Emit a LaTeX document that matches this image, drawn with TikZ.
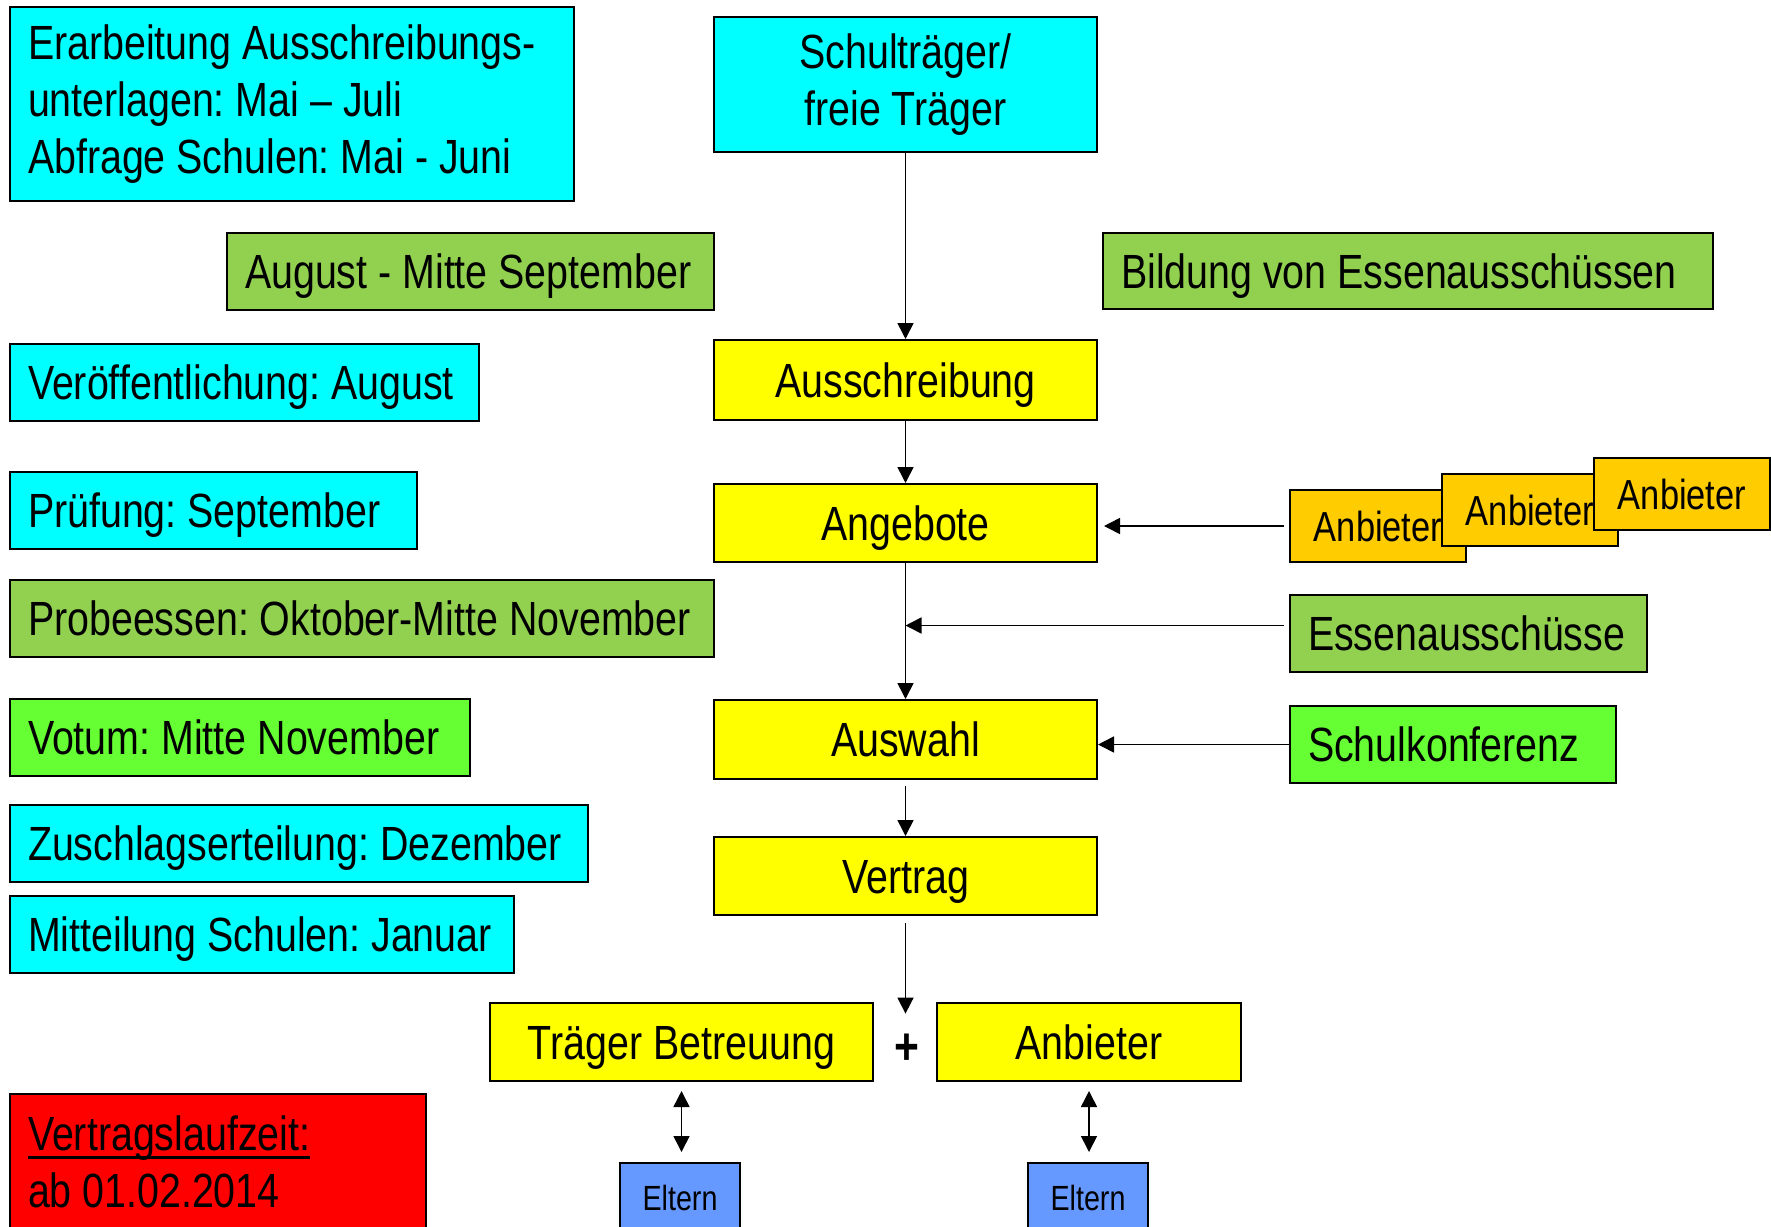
\documentclass[tikz,border=0pt]{standalone}
\usepackage{fontspec}
\setmainfont[FakeStretch=0.82]{Liberation Sans}
\usepackage{xcolor}
\usetikzlibrary{arrows.meta}

\definecolor{tcyan}{HTML}{00FFFF}
\definecolor{tyellow}{HTML}{FFFF00}
\definecolor{tolive}{HTML}{92D050}
\definecolor{tlime}{HTML}{66FF33}
\definecolor{torange}{HTML}{FFCC00}
\definecolor{tblue}{HTML}{6699FF}
\definecolor{tred}{HTML}{FF0000}

\newcommand{\dickunter}[1]{\setbox0\hbox{#1}\rlap{\rule[-4.2pt]{\wd0}{1.4pt}}\box0}
\frenchspacing

\begin{document}
\begin{tikzpicture}[x=0.5pt, y=-0.5pt,
                box/.style={draw, line width=1pt, inner sep=0pt, anchor=north west, font=\fontsize{24}{28.5}\selectfont},
                lbox/.style={box, inner xsep=9pt, align=flush left, text width=#1},
                cbox/.style={box, align=center, minimum width=191.5pt, minimum height=39pt},
                one/.style={minimum height=38.5pt, text height=17pt, text depth=0pt},
                anb/.style={box, fill=torange, minimum width=88pt, minimum height=36pt, text height=15pt, text depth=0pt, font=\fontsize{21}{25}\selectfont},
                eltern/.style={box, fill=tblue, minimum width=60pt, minimum height=35pt, text height=12.5pt, text depth=0pt, font=\fontsize{17.5}{21}\selectfont},
                arr/.style={line width=0.8pt, -{Triangle[length=8pt, width=8pt]}},
                darr/.style={line width=0.8pt, {Triangle[length=8pt, width=8pt]}-{Triangle[length=8pt, width=8pt]}}
            ]
                \useasboundingbox (0,0) rectangle (1771,1226);

                % --- linke Spalte: Termine ---
                \node[lbox=264pt, fill=tcyan, minimum height=97pt] (erarb) at (9,6) {Erarbeitung Ausschreibungs-\\unterlagen: Mai – Juli\\Abfrage Schulen: Mai - Juni};
                \node[lbox=225.5pt, fill=tolive, one] (augmitte) at (226,232) {August - Mitte September};
                \node[lbox=216.5pt, fill=tcyan, one] (veroeff) at (9,343) {Veröffentlichung: August};
                \node[lbox=185.5pt, fill=tcyan, one] (pruef) at (9,471) {Prüfung: September};
                \node[lbox=334pt, fill=tolive, one] (probe) at (9,579) {Probeessen: Oktober-Mitte November};
                \node[lbox=212pt, fill=tlime, one] (votum) at (9,698) {Votum: Mitte November};
                \node[lbox=271pt, fill=tcyan, one] (zuschlag) at (9,804) {Zuschlagserteilung: Dezember};
                \node[lbox=234pt, fill=tcyan, one] (mitteil) at (9,895) {Mitteilung Schulen: Januar};
                \node[lbox=190pt, fill=tred, minimum height=68pt] (laufzeit) at (9,1093) {\dickunter{Vertragslaufzeit:}\\ab 01.02.2014};

                % --- Mitte: Ablauf ---
                \node[cbox, fill=tcyan, minimum height=67.5pt] (schultr) at (713,16) {Schulträger/\\freie Träger};
                \node[cbox, fill=tyellow, one, minimum height=40pt] (ausschr) at (713,339) {Ausschreibung};
                \node[cbox, fill=tyellow, one, minimum height=39pt] (angebote) at (713,483) {Angebote};
                \node[cbox, fill=tyellow, one, minimum height=39.5pt] (auswahl) at (713,699) {Auswahl};
                \node[cbox, fill=tyellow, one, minimum height=39pt] (vertrag) at (713,836) {Vertrag};
                \node[cbox, fill=tyellow, one, minimum height=39pt] (traeger) at (489,1002) {Träger Betreuung};
                \node[cbox, fill=tyellow, one, minimum height=39pt, minimum width=152pt] (anbbot) at (936,1002) {Anbieter};
                \node[inner sep=0pt, minimum height=35pt, font=\fontsize{26}{30}\selectfont\bfseries] (plus) at (907,1049) {+};
                \node[eltern] (eltern1) at (619,1162) {Eltern};
                \node[eltern] (eltern2) at (1027,1162) {Eltern};

                % --- rechte Spalte ---
                \node[lbox=287pt, fill=tolive, one, minimum height=38pt] (bildung) at (1102,232) {Bildung von Essenausschüssen};
                \node[anb] (anb1) at (1289,489) {Anbieter};
                \node[anb] (anb2) at (1441,473) {Anbieter};
                \node[anb] (anb3) at (1593,457) {Anbieter};
                \node[lbox=160.5pt, fill=tolive, one] (essen) at (1289,594) {Essenausschüsse};
                \node[lbox=145pt, fill=tlime, one] (schulk) at (1289,705) {Schulkonferenz};

                % --- Pfeile ---
                \draw[arr] (schultr) -- (ausschr);
                \draw[arr] (ausschr) -- (angebote);
                \draw[arr] (angebote) -- (auswahl);
                \draw[arr, shorten <=3pt] (auswahl) -- (vertrag);
                \draw[arr, shorten <=3.5pt] (vertrag.south) -- (vertrag.south |- plus.north);
                \draw[arr, shorten <=2.5pt, shorten >=3pt] (anb1.west) -- (angebote.east |- anb1.west);
                \draw[arr, shorten <=2.5pt] ([yshift=4pt]essen.west) -- ([yshift=4pt]essen.west -| angebote.south);
                \draw[arr] (schulk.west) -- (auswahl.east |- schulk.west);
                \draw[darr, shorten <=4.5pt, shorten >=5pt] (traeger.south) -- (traeger.south |- eltern1.north);
                \draw[darr, shorten <=4.5pt, shorten >=5pt] (anbbot.south) -- (anbbot.south |- eltern2.north);

            \end{tikzpicture}
\end{document}
